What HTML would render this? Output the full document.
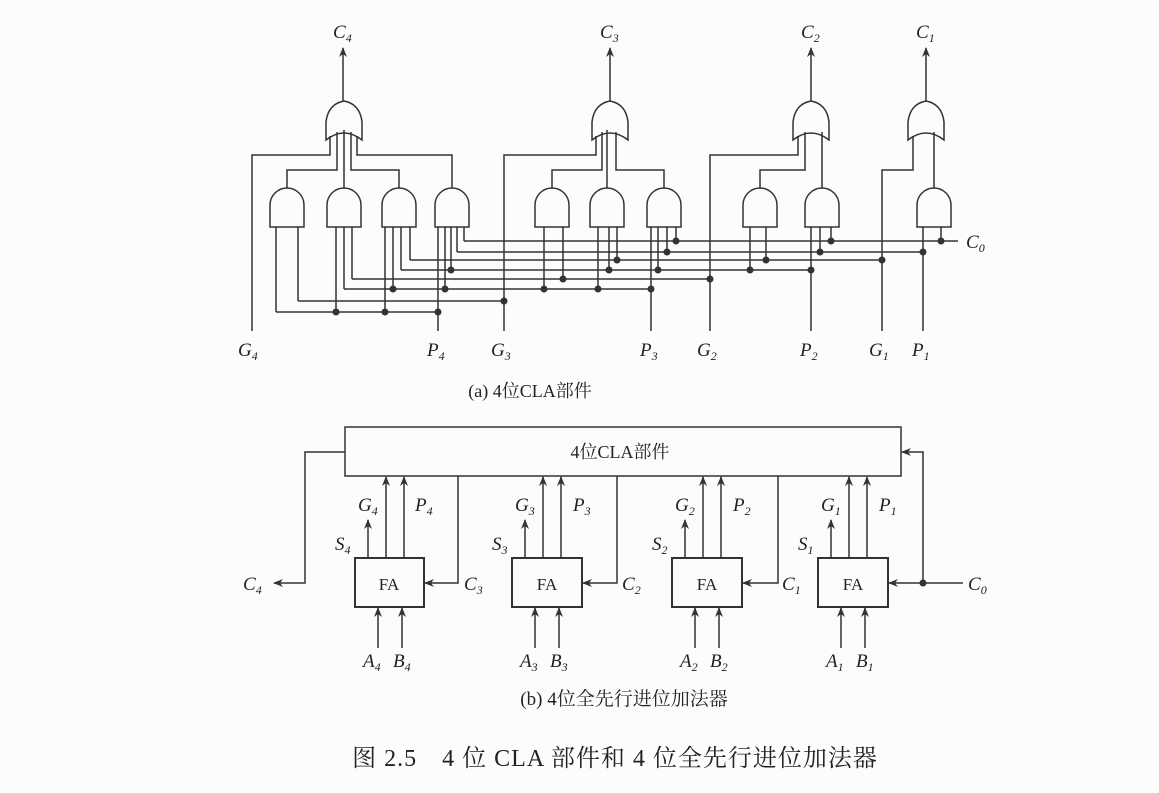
<!DOCTYPE html>
<html><head><meta charset="utf-8">
<style>
html,body{margin:0;padding:0;background:#fcfcfa;}
svg{display:block;}
text{font-family:"Liberation Serif","Noto Serif CJK SC",serif;fill:#222;}
.l{font-style:italic;font-size:19px;}
.s{font-size:12px;}
</style></head>
<body>
<svg width="1159" height="793" viewBox="0 0 1159 793" xmlns="http://www.w3.org/2000/svg">
<defs>
<marker id="ar" markerWidth="10" markerHeight="10" refX="9" refY="5" orient="auto" markerUnits="userSpaceOnUse">
<path d="M0,1 L10,5 L0,9 L3,5 Z" fill="#333"/>
</marker>
</defs>
<g stroke="#333" stroke-width="1.5" fill="none">
<path d="M326 140 L326 122 Q328 104 344 101 Q360 104 362 122 L362 140 Q344 126 326 140 Z"/>
<path d="M592 140 L592 122 Q594 104 610 101 Q626 104 628 122 L628 140 Q610 126 592 140 Z"/>
<path d="M793 140 L793 122 Q795 104 811 101 Q827 104 829 122 L829 140 Q811 126 793 140 Z"/>
<path d="M908 140 L908 122 Q910 104 926 101 Q942 104 944 122 L944 140 Q926 126 908 140 Z"/>
<line x1="343" y1="101" x2="343" y2="48" marker-end="url(#ar)"/>
<line x1="610" y1="101" x2="610" y2="48" marker-end="url(#ar)"/>
<line x1="811" y1="101" x2="811" y2="48" marker-end="url(#ar)"/>
<line x1="926" y1="101" x2="926" y2="48" marker-end="url(#ar)"/>
<path d="M270 227 L270 205 A17 17 0 0 1 304 205 L304 227 Z"/>
<path d="M327 227 L327 205 A17 17 0 0 1 361 205 L361 227 Z"/>
<path d="M382 227 L382 205 A17 17 0 0 1 416 205 L416 227 Z"/>
<path d="M435 227 L435 205 A17 17 0 0 1 469 205 L469 227 Z"/>
<path d="M535 227 L535 205 A17 17 0 0 1 569 205 L569 227 Z"/>
<path d="M590 227 L590 205 A17 17 0 0 1 624 205 L624 227 Z"/>
<path d="M647 227 L647 205 A17 17 0 0 1 681 205 L681 227 Z"/>
<path d="M743 227 L743 205 A17 17 0 0 1 777 205 L777 227 Z"/>
<path d="M805 227 L805 205 A17 17 0 0 1 839 205 L839 227 Z"/>
<path d="M917 227 L917 205 A17 17 0 0 1 951 205 L951 227 Z"/>
<polyline points="252,331 252,155 330,155 330,136"/>
<polyline points="287,188 287,170 337,170 337,132"/>
<polyline points="344,188 344,130"/>
<polyline points="399,188 399,170 351,170 351,132"/>
<polyline points="452,188 452,155 357,155 357,136"/>
<polyline points="504,331 504,155 596,155 596,136"/>
<polyline points="552,188 552,170 602,170 602,132"/>
<polyline points="607,188 607,130"/>
<polyline points="664,188 664,170 616,170 616,132"/>
<polyline points="710,331 710,155 798,155 798,136"/>
<polyline points="760,188 760,170 805,170 805,132"/>
<polyline points="822,188 822,132"/>
<polyline points="882,331 882,170 913,170 913,136"/>
<polyline points="934,188 934,132"/>
<line x1="438" y1="227" x2="438" y2="331"/>
<line x1="651" y1="227" x2="651" y2="331"/>
<line x1="811" y1="227" x2="811" y2="331"/>
<line x1="923" y1="227" x2="923" y2="331"/>
<line x1="464" y1="241" x2="958" y2="241"/>
<line x1="457" y1="252" x2="923" y2="252"/>
<line x1="410" y1="260" x2="882" y2="260"/>
<line x1="401" y1="270" x2="811" y2="270"/>
<line x1="352" y1="279" x2="710" y2="279"/>
<line x1="344" y1="289" x2="651" y2="289"/>
<line x1="298" y1="301" x2="504" y2="301"/>
<line x1="276" y1="312" x2="438" y2="312"/>
<line x1="276" y1="227" x2="276" y2="312"/>
<line x1="298" y1="227" x2="298" y2="301"/>
<line x1="336" y1="227" x2="336" y2="312"/>
<line x1="344" y1="227" x2="344" y2="289"/>
<line x1="352" y1="227" x2="352" y2="279"/>
<line x1="385" y1="227" x2="385" y2="312"/>
<line x1="393" y1="227" x2="393" y2="289"/>
<line x1="401" y1="227" x2="401" y2="270"/>
<line x1="410" y1="227" x2="410" y2="260"/>
<line x1="445" y1="227" x2="445" y2="289"/>
<line x1="451" y1="227" x2="451" y2="270"/>
<line x1="457" y1="227" x2="457" y2="252"/>
<line x1="464" y1="227" x2="464" y2="241"/>
<line x1="544" y1="227" x2="544" y2="289"/>
<line x1="563" y1="227" x2="563" y2="279"/>
<line x1="598" y1="227" x2="598" y2="289"/>
<line x1="609" y1="227" x2="609" y2="270"/>
<line x1="617" y1="227" x2="617" y2="260"/>
<line x1="658" y1="227" x2="658" y2="270"/>
<line x1="667" y1="227" x2="667" y2="252"/>
<line x1="676" y1="227" x2="676" y2="241"/>
<line x1="750" y1="227" x2="750" y2="270"/>
<line x1="766" y1="227" x2="766" y2="260"/>
<line x1="820" y1="227" x2="820" y2="252"/>
<line x1="831" y1="227" x2="831" y2="241"/>
<line x1="941" y1="227" x2="941" y2="241"/>
</g>
<g fill="#333">
<circle cx="336" cy="312" r="3.5"/><circle cx="385" cy="312" r="3.5"/><circle cx="438" cy="312" r="3.5"/>
<circle cx="504" cy="301" r="3.5"/>
<circle cx="393" cy="289" r="3.5"/><circle cx="445" cy="289" r="3.5"/><circle cx="544" cy="289" r="3.5"/><circle cx="598" cy="289" r="3.5"/><circle cx="651" cy="289" r="3.5"/>
<circle cx="563" cy="279" r="3.5"/><circle cx="710" cy="279" r="3.5"/>
<circle cx="451" cy="270" r="3.5"/><circle cx="609" cy="270" r="3.5"/><circle cx="658" cy="270" r="3.5"/><circle cx="750" cy="270" r="3.5"/><circle cx="811" cy="270" r="3.5"/>
<circle cx="617" cy="260" r="3.5"/><circle cx="766" cy="260" r="3.5"/><circle cx="882" cy="260" r="3.5"/>
<circle cx="667" cy="252" r="3.5"/><circle cx="820" cy="252" r="3.5"/><circle cx="923" cy="252" r="3.5"/>
<circle cx="676" cy="241" r="3.5"/><circle cx="831" cy="241" r="3.5"/><circle cx="941" cy="241" r="3.5"/>
</g>
<text class="l" x="333" y="38">C<tspan class="s" dy="4">4</tspan></text>
<text class="l" x="600" y="38">C<tspan class="s" dy="4">3</tspan></text>
<text class="l" x="801" y="38">C<tspan class="s" dy="4">2</tspan></text>
<text class="l" x="916" y="38">C<tspan class="s" dy="4">1</tspan></text>
<text class="l" x="966" y="248">C<tspan class="s" dy="4">0</tspan></text>
<text class="l" x="238" y="356">G<tspan class="s" dy="4">4</tspan></text>
<text class="l" x="427" y="356">P<tspan class="s" dy="4">4</tspan></text>
<text class="l" x="491" y="356">G<tspan class="s" dy="4">3</tspan></text>
<text class="l" x="640" y="356">P<tspan class="s" dy="4">3</tspan></text>
<text class="l" x="697" y="356">G<tspan class="s" dy="4">2</tspan></text>
<text class="l" x="800" y="356">P<tspan class="s" dy="4">2</tspan></text>
<text class="l" x="869" y="356">G<tspan class="s" dy="4">1</tspan></text>
<text class="l" x="912" y="356">P<tspan class="s" dy="4">1</tspan></text>
<text x="530" y="397" font-size="18" text-anchor="middle">(a) 4位CLA部件</text>

<g stroke="#333" stroke-width="1.5" fill="none">
<rect x="345" y="427" width="556" height="49"/>
<rect x="355" y="558" width="69" height="49" stroke-width="2"/>
<rect x="512" y="558" width="70" height="49" stroke-width="2"/>
<rect x="672" y="558" width="70" height="49" stroke-width="2"/>
<rect x="818" y="558" width="70" height="49" stroke-width="2"/>
<line x1="368" y1="558" x2="368" y2="520" marker-end="url(#ar)"/>
<line x1="386" y1="558" x2="386" y2="477" marker-end="url(#ar)"/>
<line x1="404" y1="558" x2="404" y2="477" marker-end="url(#ar)"/>
<line x1="378" y1="648" x2="378" y2="608" marker-end="url(#ar)"/>
<line x1="402" y1="648" x2="402" y2="608" marker-end="url(#ar)"/>
<polyline points="458,476 458,583 425,583" marker-end="url(#ar)"/>
<line x1="525" y1="558" x2="525" y2="520" marker-end="url(#ar)"/>
<line x1="543" y1="558" x2="543" y2="477" marker-end="url(#ar)"/>
<line x1="561" y1="558" x2="561" y2="477" marker-end="url(#ar)"/>
<line x1="535" y1="648" x2="535" y2="608" marker-end="url(#ar)"/>
<line x1="559" y1="648" x2="559" y2="608" marker-end="url(#ar)"/>
<polyline points="617,476 617,583 583,583" marker-end="url(#ar)"/>
<line x1="685" y1="558" x2="685" y2="520" marker-end="url(#ar)"/>
<line x1="703" y1="558" x2="703" y2="477" marker-end="url(#ar)"/>
<line x1="721" y1="558" x2="721" y2="477" marker-end="url(#ar)"/>
<line x1="695" y1="648" x2="695" y2="608" marker-end="url(#ar)"/>
<line x1="719" y1="648" x2="719" y2="608" marker-end="url(#ar)"/>
<polyline points="778,476 778,583 743,583" marker-end="url(#ar)"/>
<line x1="831" y1="558" x2="831" y2="520" marker-end="url(#ar)"/>
<line x1="849" y1="558" x2="849" y2="477" marker-end="url(#ar)"/>
<line x1="867" y1="558" x2="867" y2="477" marker-end="url(#ar)"/>
<line x1="841" y1="648" x2="841" y2="608" marker-end="url(#ar)"/>
<line x1="865" y1="648" x2="865" y2="608" marker-end="url(#ar)"/>
<line x1="963" y1="583" x2="889" y2="583" marker-end="url(#ar)"/>
<polyline points="923,583 923,452 902,452" marker-end="url(#ar)"/>
<polyline points="345,452 305,452 305,583 274,583" marker-end="url(#ar)"/>
</g>
<circle cx="923" cy="583" r="3.5" fill="#333"/>
<text x="620" y="458" font-size="18" text-anchor="middle">4位CLA部件</text>
<g font-size="17" text-anchor="middle">
<text x="389" y="590">FA</text><text x="547" y="590">FA</text><text x="707" y="590">FA</text><text x="853" y="590">FA</text>
</g>
<text class="l" x="243" y="590">C<tspan class="s" dy="4">4</tspan></text>
<text class="l" x="464" y="590">C<tspan class="s" dy="4">3</tspan></text>
<text class="l" x="622" y="590">C<tspan class="s" dy="4">2</tspan></text>
<text class="l" x="782" y="590">C<tspan class="s" dy="4">1</tspan></text>
<text class="l" x="968" y="590">C<tspan class="s" dy="4">0</tspan></text>
<text class="l" x="335" y="550">S<tspan class="s" dy="4">4</tspan></text>
<text class="l" x="492" y="550">S<tspan class="s" dy="4">3</tspan></text>
<text class="l" x="652" y="550">S<tspan class="s" dy="4">2</tspan></text>
<text class="l" x="798" y="550">S<tspan class="s" dy="4">1</tspan></text>
<text class="l" x="358" y="511">G<tspan class="s" dy="4">4</tspan></text>
<text class="l" x="415" y="511">P<tspan class="s" dy="4">4</tspan></text>
<text class="l" x="515" y="511">G<tspan class="s" dy="4">3</tspan></text>
<text class="l" x="573" y="511">P<tspan class="s" dy="4">3</tspan></text>
<text class="l" x="675" y="511">G<tspan class="s" dy="4">2</tspan></text>
<text class="l" x="733" y="511">P<tspan class="s" dy="4">2</tspan></text>
<text class="l" x="821" y="511">G<tspan class="s" dy="4">1</tspan></text>
<text class="l" x="879" y="511">P<tspan class="s" dy="4">1</tspan></text>
<text class="l" x="363" y="667">A<tspan class="s" dy="4">4</tspan></text>
<text class="l" x="393" y="667">B<tspan class="s" dy="4">4</tspan></text>
<text class="l" x="520" y="667">A<tspan class="s" dy="4">3</tspan></text>
<text class="l" x="550" y="667">B<tspan class="s" dy="4">3</tspan></text>
<text class="l" x="680" y="667">A<tspan class="s" dy="4">2</tspan></text>
<text class="l" x="710" y="667">B<tspan class="s" dy="4">2</tspan></text>
<text class="l" x="826" y="667">A<tspan class="s" dy="4">1</tspan></text>
<text class="l" x="856" y="667">B<tspan class="s" dy="4">1</tspan></text>
<text x="624" y="705" font-size="19" text-anchor="middle">(b) 4位全先行进位加法器</text>
<text x="615" y="766" font-size="24" text-anchor="middle" letter-spacing="1">图 2.5　4 位 CLA 部件和 4 位全先行进位加法器</text>
</svg>
</body></html>
